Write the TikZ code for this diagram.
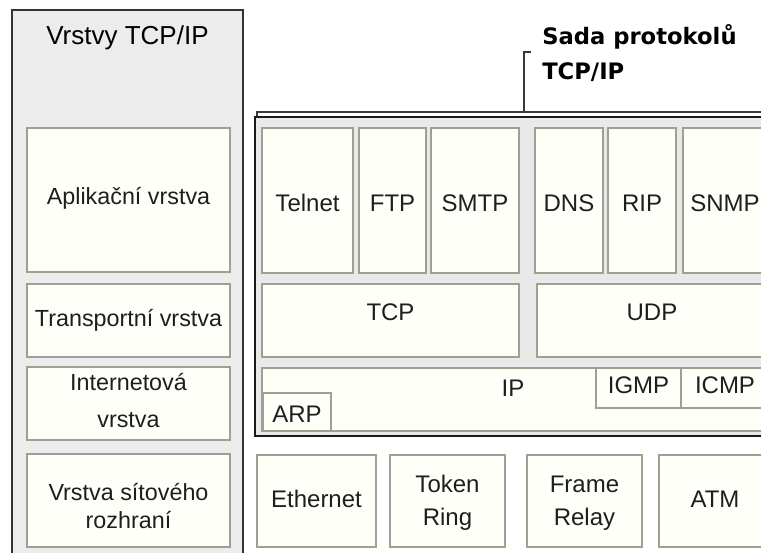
\documentclass[tikz,border=0pt]{standalone}
\usepackage{fontspec}
\setmainfont{Liberation Sans}
\newfontfamily\hdfont{DejaVu Sans}
\usetikzlibrary{fit}
\definecolor{panelgray}{HTML}{ECECEC}
\definecolor{suitegray}{HTML}{E9E9E9}
\definecolor{boxline}{HTML}{A0A090}
\definecolor{boxfill}{HTML}{FFFFFA}
\definecolor{txt}{HTML}{1E1E1E}
\definecolor{brk}{HTML}{3A3A3A}
\begin{document}
\begin{tikzpicture}[x=0.75pt,y=-0.75pt,
  panel/.style={draw=black!80, line width=1.5pt, fill=panelgray, inner sep=0pt},
  suite/.style={draw=black!90, line width=1.5pt, fill=suitegray, inner sep=0pt},
  box/.style={draw=boxline, line width=1.1pt, fill=boxfill, inner sep=0pt},
  lbl/.style={inner sep=0pt, anchor=base, text=txt, font=\fontsize{18}{22}\selectfont},
  lyrlbl/.style={lbl, font=\fontsize{17.5}{22}\selectfont},
  hdlbl/.style={inner sep=0pt, anchor=base west, text=black, font=\hdfont\bfseries\fontsize{17}{20}\selectfont},
  bracketline/.style={draw=brk, line width=1.2pt}]
\useasboundingbox (0,0) rectangle (761,553);
\begin{scope}
\clip (0,0) rectangle (761,553);
% left panel
\node[panel, fit={(12,10) (243,580)}] (panel) {};
\node[lbl, font=\fontsize{19.5}{24}\selectfont, text=black] (title) at (127.5,44) {Vrstvy TCP/IP};
\node[box, fit={(27,128) (230,272)}] (app) {};
\node[box, fit={(27,284) (230,357)}] (trans) {};
\node[box, fit={(27,367) (230,440)}] (inet) {};
\node[box, fit={(27,454) (230,547)}] (netif) {};
\node[lyrlbl] (appT) at (128.5,204) {Aplikační vrstva};
\node[lyrlbl] (transT) at (128.5,326) {Transportní vrstva};
\node[lyrlbl] (inetT1) at (128.5,390) {Internetová};
\node[lyrlbl] (inetT2) at (128.5,427) {vrstva};
\node[lyrlbl] (netifT1) at (128.5,500) {Vrstva sítového};
\node[lyrlbl] (netifT2) at (128.5,528) {rozhraní};
% bracket and heading
\coordinate (bL) at (257,117);
\coordinate (bLc) at (257,112);
\coordinate (bR) at (800,112);
\coordinate (bM) at (524,112);
\coordinate (bT) at (524,52);
\coordinate (bTe) at (531,52);
\draw[bracketline] (bL) -- (bLc) -- (bR);
\draw[bracketline] (bM) -- (bT) -- (bTe);
\node[hdlbl] (hd1) at (542,45) {Sada protokolů};
\node[hdlbl] (hd2) at (542,79) {TCP/IP};
% protocol suite
\node[suite, fit={(255,117) (820,436)}] (suite) {};
\node[box, fit={(262,128) (353,273)}] (telnet) {};
\node[box, fit={(359,128) (426,273)}] (ftp) {};
\node[box, fit={(431,128) (519,273)}] (smtp) {};
\node[box, fit={(535,128) (603,273)}] (dns) {};
\node[box, fit={(608,128) (676,273)}] (rip) {};
\node[box, fit={(683,128) (800,273)}] (snmp) {};
\node[lbl] (telnetT) at (307.5,211) {Telnet};
\node[lbl] (ftpT) at (392.5,211) {FTP};
\node[lbl] (smtpT) at (475,211) {SMTP};
\node[lbl] (dnsT) at (569,211) {DNS};
\node[lbl] (ripT) at (642,211) {RIP};
\node[lbl] (snmpT) at (725,211) {SNMP};
\node[box, fit={(262,284) (519,357)}] (tcp) {};
\node[box, fit={(537,284) (800,357)}] (udp) {};
\node[lbl] (tcpT) at (390.5,320) {TCP};
\node[lbl] (udpT) at (652,320) {UDP};
\node[box, fit={(262,368) (800,431)}] (ip) {};
\node[box, fit={(596,368) (681,408)}] (igmp) {};
\node[box, fit={(681,368) (800,408)}] (icmp) {};
\node[box, fit={(263,393) (331,431)}] (arp) {};
\node[lbl] (ipT) at (513,396) {IP};
\node[lbl] (igmpT) at (638.5,393) {IGMP};
\node[lbl] (icmpT) at (725,393) {ICMP};
\node[lbl] (arpT) at (297,422) {ARP};
% network interface technologies
\node[box, fit={(257,455) (376,547)}] (eth) {};
\node[box, fit={(390,455) (505,547)}] (tok) {};
\node[box, fit={(527,455) (642,547)}] (frm) {};
\node[box, fit={(659,455) (800,547)}] (atm) {};
\node[lbl] (ethT) at (316.5,507) {Ethernet};
\node[lbl] (tokT1) at (447.5,492) {Token};
\node[lbl] (tokT2) at (447.5,525) {Ring};
\node[lbl] (frmT1) at (584.5,492) {Frame};
\node[lbl] (frmT2) at (584.5,525) {Relay};
\node[lbl] (atmT) at (715,507) {ATM};
\end{scope}
\end{tikzpicture}
\end{document}
